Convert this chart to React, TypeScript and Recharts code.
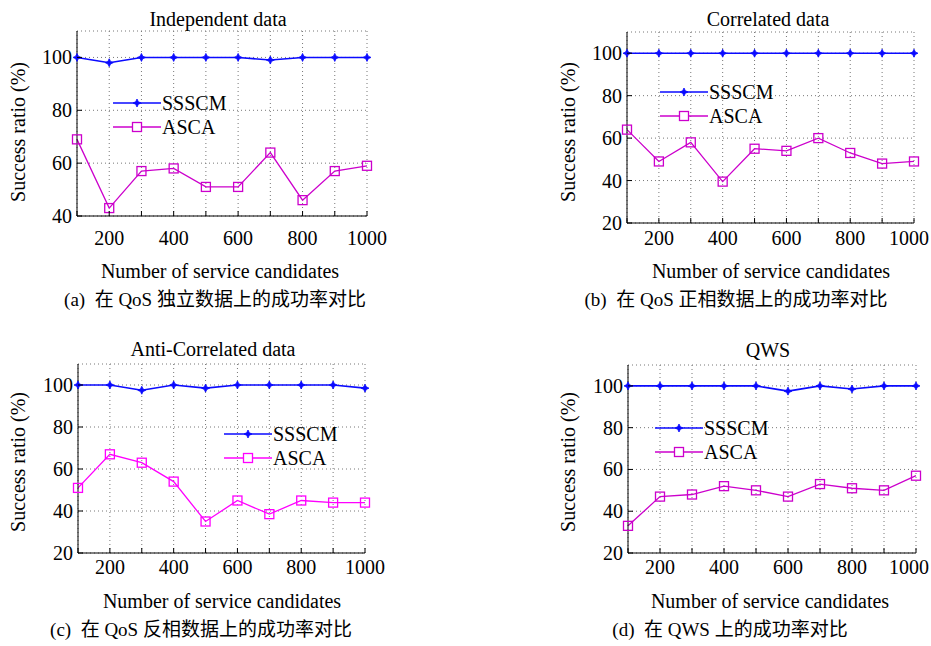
import React from 'react';
import { LineChart, Line, XAxis, YAxis, CartesianGrid, Legend } from 'recharts';

const candidates = [100, 200, 300, 400, 500, 600, 700, 800, 900, 1000];
const labeledX = [200, 400, 600, 800, 1000];

const seriesNames = ['SSSCM', 'ASCA'];

const titles = ['Independent data', 'Correlated data', 'Anti-Correlated data', 'QWS'];
const captions = [
  '(a)  在 QoS 独立数据上的成功率对比',
  '(b)  在 QoS 正相数据上的成功率对比',
  '(c)  在 QoS 反相数据上的成功率对比',
  '(d)  在 QWS 上的成功率对比',
];

const yTicksA = [40, 60, 80, 100];
const yTicksOther = [20, 40, 60, 80, 100];

const indepSSSCM = [100, 98, 100, 100, 100, 100, 99, 100, 100, 100];
const indepASCA = [69, 43, 57, 58, 51, 51, 64, 46, 57, 59];

const corrSSSCM = [100, 100, 100, 100, 100, 100, 100, 100, 100, 100];
const corrASCA = [64, 49, 58, 39.5, 55, 54, 60, 53, 48, 49];

const antiSSSCM = [100, 100, 97.5, 100, 98.5, 100, 100, 100, 100, 98.5];
const antiASCA = [51, 67, 63, 54, 35, 45, 38.5, 45, 44, 44];

const qwsSSSCM = [100, 100, 100, 100, 100, 97.5, 100, 98.5, 100, 100];
const qwsASCA = [33, 47, 48, 52, 50, 47, 53, 51, 50, 57];

const SERIF = "'Liberation Serif', 'Times New Roman', serif";
const CAPTION_FONT = "'Liberation Serif', 'Noto Sans CJK SC', serif";
const BLUE = '#0a0aff';

const build = (a: number[], b: number[]) =>
  candidates.map((n, i) => ({ n, SSSCM: a[i], ASCA: b[i] }));

const StarDot = (props: any) => {
  const { cx, cy, index } = props;
  if (cx == null || cy == null) return <g key={index} />;
  const r = 4;
  const s = 1.3;
  const d = `M${cx},${cy - r} L${cx + s},${cy - s} L${cx + r},${cy} L${cx + s},${cy + s} L${cx},${cy + r} L${cx - s},${cy + s} L${cx - r},${cy} L${cx - s},${cy - s} Z`;
  return <path key={index} d={d} fill={BLUE} stroke={BLUE} strokeWidth={0.8} />;
};

const makeSquareDot = (color: string) => (props: any) => {
  const { cx, cy, index } = props;
  if (cx == null || cy == null) return <g key={index} />;
  return (
    <rect key={index} x={cx - 4.5} y={cy - 4.5} width={9} height={9} fill="none" stroke={color} strokeWidth={1.3} />
  );
};

const makeBottomTick = (M: number, maxRight: number) => (props: any) => {
  const { x, y, payload } = props;
  const base = y - M;
  const show = labeledX.includes(payload.value);
  const halfW = String(payload.value).length * 5;
  const tx = Math.min(x, maxRight - halfW);
  return (
    <g>
      <line x1={x} x2={x} y1={base} y2={base - 5} stroke="#000" strokeWidth={1} />
      {show && (
        <text x={tx} y={y} dy="0.71em" textAnchor="middle" fontSize={20} fontFamily={SERIF} fill="#000">
          {payload.value}
        </text>
      )}
    </g>
  );
};

const makeLeftTick = (M: number) => (props: any) => {
  const { x, y, payload } = props;
  const base = x + M;
  return (
    <g>
      <line x1={base} x2={base + 5} y1={y} y2={y} stroke="#000" strokeWidth={1} />
      <text x={x} y={y} dy="0.35em" textAnchor="end" fontSize={20} fontFamily={SERIF} fill="#000">
        {payload.value}
      </text>
    </g>
  );
};

const TopTick = (props: any) => {
  const { x, y } = props;
  return <line x1={x} x2={x} y1={y} y2={y + 5} stroke="#000" strokeWidth={1} />;
};

const RightTick = (props: any) => {
  const { x, y } = props;
  return <line x1={x} x2={x - 5} y1={y} y2={y} stroke="#000" strokeWidth={1} />;
};

const makeLegend = (ascaColor: string) => () => (
  <div style={{ fontFamily: SERIF, fontSize: 20, color: '#000', lineHeight: '24px' }}>
    {seriesNames.map((name) => (
      <div key={name} style={{ display: 'flex', alignItems: 'center', height: 24 }}>
        <svg width={48} height={24} style={{ display: 'block' }}>
          {name === 'SSSCM' ? (
            <g>
              <line x1={0} x2={48} y1={12} y2={12} stroke={BLUE} strokeWidth={1.6} />
              <path d="M24,8 L25.3,10.7 L28,12 L25.3,13.3 L24,16 L22.7,13.3 L20,12 L22.7,10.7 Z" fill={BLUE} stroke={BLUE} strokeWidth={0.8} />
            </g>
          ) : (
            <g>
              <line x1={0} x2={48} y1={12} y2={12} stroke={ascaColor} strokeWidth={1.3} />
              <rect x={19.5} y={7.5} width={9} height={9} fill="#fff" stroke={ascaColor} strokeWidth={1.3} />
            </g>
          )}
        </svg>
        <span style={{ marginLeft: 1 }}>{name}</span>
      </div>
    ))}
  </div>
);

type PanelProps = {
  left: number;
  top: number;
  width: number;
  height: number;
  margin: { top: number; right: number; bottom: number; left: number };
  yAxisWidth: number;
  bottomMargin: number;
  maxRight: number;
  data: any[];
  yDomain: [number, number];
  yTicks: number[];
  ascaColor: string;
  legendPos: { left: number; top: number };
};

const Panel = (p: PanelProps) => (
  <div style={{ position: 'absolute', left: p.left, top: p.top }}>
    <LineChart width={p.width} height={p.height} data={p.data} margin={p.margin}>
      <CartesianGrid stroke="#777" strokeDasharray="1 3" strokeWidth={1} />
      <XAxis
        dataKey="n"
        type="number"
        domain={[100, 1000]}
        ticks={candidates}
        interval={0}
        height={20}
        tickSize={0}
        tickMargin={p.bottomMargin}
        tickLine={false}
        axisLine={{ stroke: '#000', strokeWidth: 1 }}
        tick={makeBottomTick(p.bottomMargin, p.maxRight)}
      />
      <XAxis
        xAxisId="top"
        orientation="top"
        dataKey="n"
        type="number"
        domain={[100, 1000]}
        ticks={candidates}
        interval={0}
        height={0}
        tickSize={0}
        tickMargin={0}
        tickLine={false}
        axisLine={{ stroke: '#000', strokeWidth: 1 }}
        tick={TopTick}
      />
      <YAxis
        type="number"
        domain={p.yDomain}
        ticks={p.yTicks}
        interval={0}
        width={p.yAxisWidth}
        tickSize={0}
        tickMargin={5}
        tickLine={false}
        axisLine={{ stroke: '#000', strokeWidth: 1 }}
        tick={makeLeftTick(5)}
        allowDataOverflow
      />
      <YAxis
        yAxisId="right"
        orientation="right"
        type="number"
        domain={p.yDomain}
        ticks={p.yTicks}
        interval={0}
        width={0}
        tickSize={0}
        tickMargin={0}
        tickLine={false}
        axisLine={{ stroke: '#000', strokeWidth: 1 }}
        tick={RightTick}
      />
      <Legend
        layout="vertical"
        align="center"
        verticalAlign="middle"
        wrapperStyle={{ left: p.legendPos.left, top: p.legendPos.top, width: 'auto' }}
        content={makeLegend(p.ascaColor)}
      />
      <Line
        dataKey="SSSCM"
        stroke={BLUE}
        strokeWidth={1.6}
        dot={StarDot}
        activeDot={false}
        isAnimationActive={false}
      />
      <Line
        dataKey="ASCA"
        stroke={p.ascaColor}
        strokeWidth={1.3}
        dot={makeSquareDot(p.ascaColor)}
        activeDot={false}
        isAnimationActive={false}
      />
    </LineChart>
  </div>
);

const Text = ({ x, y, children, size = 20, font = SERIF, rotate = false }: any) => (
  <div
    style={{
      position: 'absolute',
      left: x,
      top: y,
      transform: `translate(-50%, -50%)${rotate ? ' rotate(-90deg)' : ''}`,
      fontFamily: font,
      fontSize: size,
      whiteSpace: 'pre',
      color: '#000',
      lineHeight: 1,
    }}
  >
    {children}
  </div>
);

export default function App() {
  return (
    <div style={{ position: 'absolute', left: 0, top: 0, width: 931, height: 646, background: '#fff', overflow: 'hidden' }}>
      <Panel
        left={0}
        top={0}
        width={405}
        height={250}
        margin={{ top: 31, right: 38, bottom: 14, left: 0 }}
        yAxisWidth={77}
        bottomMargin={15}
        maxRight={405}
        data={build(indepSSSCM, indepASCA)}
        yDomain={[40, 110]}
        yTicks={yTicksA}
        ascaColor="#cc00cc"
        legendPos={{ left: 113, top: 91 }}
      />
      <Panel
        left={550}
        top={0}
        width={406}
        height={250}
        margin={{ top: 32, right: 42, bottom: 7, left: 0 }}
        yAxisWidth={77}
        bottomMargin={8}
        maxRight={379}
        data={build(corrSSSCM, corrASCA)}
        yDomain={[20, 110]}
        yTicks={yTicksOther}
        ascaColor="#cc00cc"
        legendPos={{ left: 110, top: 80 }}
      />
      <Panel
        left={0}
        top={330}
        width={405}
        height={250}
        margin={{ top: 34, right: 40, bottom: 7, left: 0 }}
        yAxisWidth={78}
        bottomMargin={7}
        maxRight={405}
        data={build(antiSSSCM, antiASCA)}
        yDomain={[20, 110]}
        yTicks={yTicksOther}
        ascaColor="#ff00ff"
        legendPos={{ left: 224, top: 92 }}
      />
      <Panel
        left={550}
        top={330}
        width={406}
        height={250}
        margin={{ top: 35, right: 40, bottom: 7, left: 0 }}
        yAxisWidth={78}
        bottomMargin={7}
        maxRight={379}
        data={build(qwsSSSCM, qwsASCA)}
        yDomain={[20, 110]}
        yTicks={yTicksOther}
        ascaColor="#cc00cc"
        legendPos={{ left: 105, top: 86 }}
      />

      <Text x={218} y={19}>{titles[0]}</Text>
      <Text x={768} y={19}>{titles[1]}</Text>
      <Text x={213} y={349}>{titles[2]}</Text>
      <Text x={768} y={350}>{titles[3]}</Text>

      <Text x={18} y={132} rotate>Success ratio (%)</Text>
      <Text x={568} y={132} rotate>Success ratio (%)</Text>
      <Text x={18} y={462} rotate>Success ratio (%)</Text>
      <Text x={568} y={462} rotate>Success ratio (%)</Text>

      <Text x={220} y={271}>Number of service candidates</Text>
      <Text x={771} y={271}>Number of service candidates</Text>
      <Text x={222} y={601}>Number of service candidates</Text>
      <Text x={770} y={601}>Number of service candidates</Text>

      <Text x={215} y={299} size={19} font={CAPTION_FONT}>{captions[0]}</Text>
      <Text x={736} y={299} size={19} font={CAPTION_FONT}>{captions[1]}</Text>
      <Text x={201} y={629} size={19} font={CAPTION_FONT}>{captions[2]}</Text>
      <Text x={730} y={629} size={19} font={CAPTION_FONT}>{captions[3]}</Text>
    </div>
  );
}
